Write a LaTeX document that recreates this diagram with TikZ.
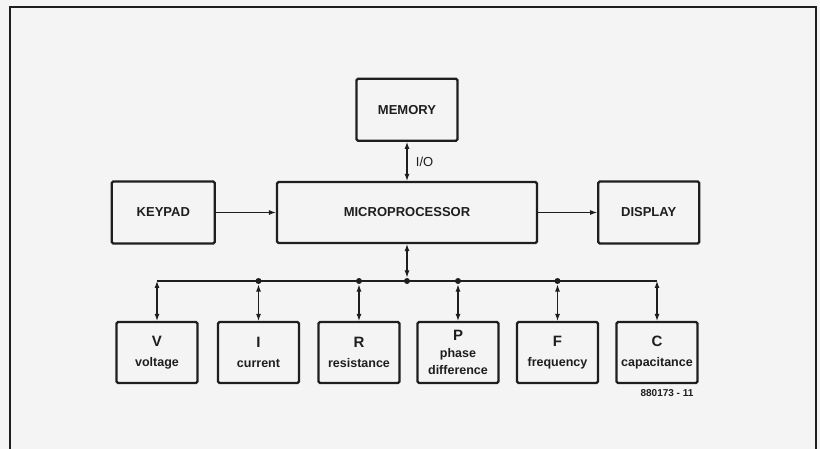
\documentclass[tikz,border=0pt]{standalone}
\usepackage{fontspec}
\setmainfont{Liberation Sans}
\usetikzlibrary{arrows.meta,positioning}
\definecolor{paper}{HTML}{F4F4F4}
\definecolor{ink}{HTML}{1E1E1E}
\newcommand{\bigsym}[1]{{\fontsize{15}{17}\selectfont #1}}

\begin{document}
\begin{tikzpicture}[
  x=1pt, y=-1pt,
  >={Latex[length=7pt,width=5pt]},
  line width=1.1pt,
  every node/.style={font=\fontsize{13}{15}\selectfont\bfseries, text=ink},
  blk/.style={draw=ink, line width=2.2pt, rounded corners=1.5pt,
    minimum width=101pt, minimum height=62pt, inner sep=0pt},
  meas/.style={blk, minimum width=81pt, minimum height=61pt, align=center,
    font=\fontsize{12.5}{17}\selectfont\bfseries},
  tap/.style={circle, fill=ink, inner sep=0pt, minimum size=6pt}]

% --- page and frame ---
\fill[paper] (0,0) rectangle (820,449);
\useasboundingbox (0,0) rectangle (820,449);
\draw[ink, line width=1.8pt] (10,449) -- (10,7) -- (816,7) -- (816,449);

% --- main blocks ---
\node[blk, minimum width=260pt, minimum height=61pt] (mpu) at (407,212.5) {MICROPROCESSOR};
\node[blk, above=39pt of mpu] (mem) {MEMORY};
\node[blk, minimum width=103pt, left=60pt of mpu] (key) {KEYPAD};
\node[blk, right=59pt of mpu] (disp) {DISPLAY};

% --- measurement blocks ---
\foreach \nm/\cx/\txt in {v/157/{\bigsym{V}\\[3pt]voltage},
                          i/258.5/{\bigsym{I}\\[3pt]current},
                          r/359/{\bigsym{R}\\[3pt]resistance},
                          p/458/{\bigsym{P}\\phase\\difference},
                          f/557.5/{\bigsym{F}\\[3pt]frequency},
                          c/657/{\bigsym{C}\\[3pt]capacitance}}
  \node[meas] (\nm) at (\cx,352.5) {\txt};

% --- connections ---
\draw[ink, ->] (key) -- (key.east -| mpu.west);
\draw[ink, ->] (mpu.east |- disp) -- (disp);
\draw[ink, <->] (mem) -- (mpu) node[midway, right=5pt, font=\fontsize{13}{15}\selectfont] (io) {I/O};

% --- bus ---
\coordinate (bus) at (mpu.south |- 0,281);
\node[tap] (t0) at (bus) {};
\draw[ink, <->] (mpu) -- (t0);
\draw[ink] (v.north |- bus) -- (c.north |- bus);
\draw[ink, <->] (v.north |- bus) -- (v);
\draw[ink, <->] (c.north |- bus) -- (c);
\foreach \nm in {i,r,p,f} {
  \node[tap] (t\nm) at (\nm.north |- bus) {};
  \draw[ink, <->] (t\nm) -- (\nm);
}

\node[font=\fontsize{10}{12}\selectfont\bfseries] (fignum) at (667,393) {880173 - 11};

\end{tikzpicture}
\end{document}
